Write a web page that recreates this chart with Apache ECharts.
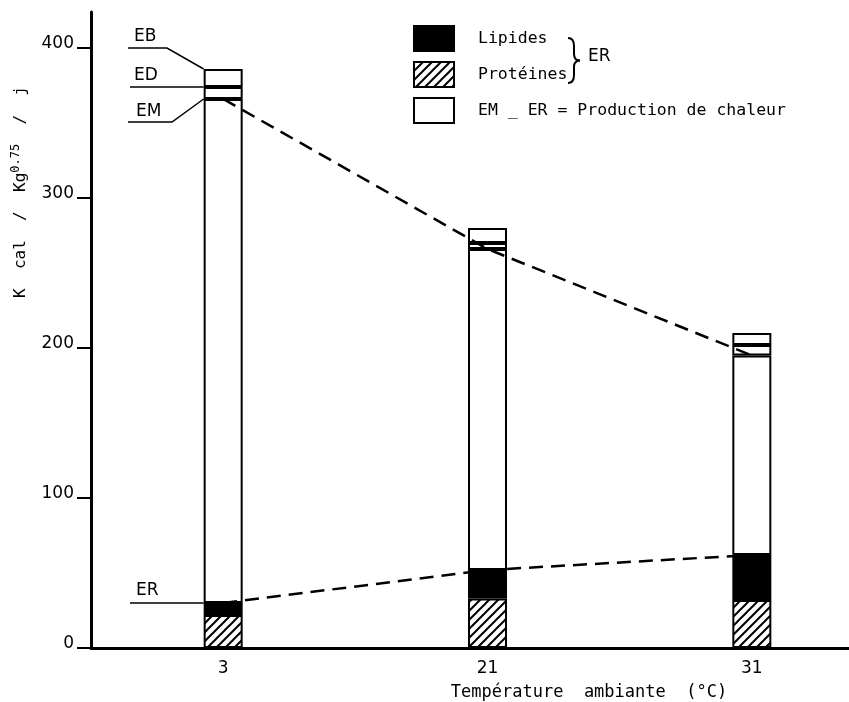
<!DOCTYPE html>
<html>
<head>
<meta charset="utf-8">
<script src="https://cdn.jsdelivr.net/npm/echarts@6/dist/echarts.min.js"></script>
<style>
  html, body { margin: 0; padding: 0; background: #fff; }
  #main { width: 849px; height: 702px; }
</style>
</head>
<body>
<div id="main"></div>
<script>
// valeurs (Kcal / Kg^0.75 / j)
var temperatures = ['3', '21', '31']
var proteines = [22, 33, 32]
var er = [30, 52, 62]     // lipides + protéines
var em = [366, 266, 195]
var ed = [374, 270, 202]
var eb = [386, 280, 210]
var yTicks = [0, 100, 200, 300, 400]

var FONT = 'DejaVu Sans'
var MONO = 'DejaVu Sans Mono'

// motif hachuré pour les protéines
var hatch = document.createElement('canvas')
hatch.width = 9
hatch.height = 9
var hc = hatch.getContext('2d')
hc.fillStyle = '#fff'
hc.fillRect(0, 0, 9, 9)
hc.strokeStyle = '#000'
hc.lineWidth = 2
hc.beginPath()
hc.moveTo(-1, 10); hc.lineTo(10, -1)
hc.moveTo(-1, 1); hc.lineTo(1, -1)
hc.moveTo(8, 10); hc.lineTo(10, 8)
hc.stroke()

function diff(a, b) {
  return a.map(function (v, i) { return v - b[i] })
}

var barBase = {
  type: 'bar',
  stack: 'e',
  barWidth: 39,
  silent: true,
  itemStyle: { color: '#fff', borderColor: '#000', borderWidth: 2 }
}

var myChart = echarts.init(document.getElementById('main'))

myChart.setOption({
  animation: false,
  grid: { left: 91, top: 12, bottom: 54, width: 793, outerBoundsMode: 'none' },
  legend: {
    left: 413,
    top: 25,
    padding: 0,
    orient: 'vertical',
    itemWidth: 40,
    itemHeight: 25,
    itemGap: 9,
    icon: 'rect',
    selectedMode: false,
    itemStyle: { borderColor: '#000', borderWidth: 2 },
    textStyle: { fontFamily: MONO, fontSize: 16.5, color: '#000', padding: [3, 0, 0, 19] },
    data: ['Lipides', 'Protéines', 'EM _ ER = Production de chaleur']
  },
  xAxis: {
    type: 'category',
    data: temperatures,
    axisLine: { lineStyle: { color: '#000', width: 3 } },
    axisTick: { show: false },
    axisLabel: { color: '#000', fontFamily: FONT, fontSize: 17, margin: 12 }
  },
  yAxis: {
    type: 'value',
    min: 0,
    max: 424,
    interval: 100,
    splitLine: { show: false },
    axisLine: { show: true, lineStyle: { color: '#000', width: 3 } },
    axisTick: { show: true, length: 14, customValues: yTicks, lineStyle: { color: '#000', width: 2 } },
    axisLabel: {
      color: '#000', fontFamily: FONT, fontSize: 17, margin: 17,
      verticalAlign: 'bottom', lineHeight: 9, customValues: yTicks
    }
  },
  series: [
    Object.assign({}, barBase, {
      name: 'Protéines',
      data: proteines,
      itemStyle: { color: { image: hatch, repeat: 'repeat' }, borderColor: '#000', borderWidth: 2 }
    }),
    Object.assign({}, barBase, {
      name: 'Lipides',
      data: diff(er, proteines),
      itemStyle: { color: '#000', borderColor: '#000', borderWidth: 2 }
    }),
    Object.assign({}, barBase, { name: 'EM _ ER = Production de chaleur', data: diff(em, er) }),
    Object.assign({}, barBase, { name: 'ED', data: diff(ed, em) }),
    Object.assign({}, barBase, { name: 'EB', data: diff(eb, ed) }),
    {
      name: 'EM', type: 'line', data: em, symbol: 'none', silent: true, z: 5,
      lineStyle: { color: '#000', width: 2.5, type: [14, 8] }
    },
    {
      name: 'ER', type: 'line', data: er, symbol: 'none', silent: true, z: 5,
      lineStyle: { color: '#000', width: 2.5, type: [14, 8] }
    }
  ]
})

// repères EB / ED / EM / ER à gauche de la première barre
var cx = myChart.convertToPixel({ xAxisIndex: 0 }, temperatures[0])
var bl = cx - 19.5
function py(v) { return myChart.convertToPixel({ yAxisIndex: 0 }, v) }
var yEB = py(eb[0]), yED = py(ed[0]), yEM = py(em[0]), yER = py(er[0])

var lineStyle = { stroke: '#000', lineWidth: 1.5, fill: null }
var braceStyle = { stroke: '#000', lineWidth: 2, fill: null }
function label(txt, x, y) {
  return {
    type: 'text', x: x, y: y,
    style: { text: txt, fontFamily: FONT, fontSize: 17, fill: '#000', verticalAlign: 'middle' }
  }
}
function curve(x1, y1, cx1, cy1, x2, y2) {
  return { type: 'bezierCurve', shape: { x1: x1, y1: y1, cpx1: cx1, cpy1: cy1, x2: x2, y2: y2 }, style: braceStyle }
}
function seg(x1, y1, x2, y2) {
  return { type: 'line', shape: { x1: x1, y1: y1, x2: x2, y2: y2 }, style: braceStyle }
}

myChart.setOption({
  graphic: [
    label('EB', 134, yEB - 32),
    { type: 'polyline', shape: { points: [[128, yEB - 21], [167, yEB - 21], [bl, yEB]] }, style: lineStyle },
    label('ED', 134, yED - 11),
    { type: 'polyline', shape: { points: [[130, yED], [bl, yED]] }, style: lineStyle },
    label('EM', 136, yEM + 13),
    { type: 'polyline', shape: { points: [[128, yEM + 23], [172, yEM + 23], [bl, yEM]] }, style: lineStyle },
    label('ER', 136, yER - 12),
    { type: 'polyline', shape: { points: [[130, yER], [bl, yER]] }, style: lineStyle },
    // accolade + ER de la légende
    curve(568, 38, 574, 38, 574, 46),
    seg(574, 46, 574, 54),
    curve(574, 54, 574, 60.5, 580, 60.5),
    curve(580, 60.5, 574, 60.5, 574, 67),
    seg(574, 67, 574, 75),
    curve(574, 75, 574, 83, 568, 83),
    label('ER', 588, 57),
    // titre de l'axe y
    {
      type: 'text', x: 21, y: 192, rotation: Math.PI / 2,
      style: {
        text: '{a|K  cal  /  Kg}{s|0.75}{a|  /  j}',
        align: 'center', verticalAlign: 'middle',
        rich: {
          a: { fontFamily: MONO, fontSize: 16, fill: '#000', lineHeight: 22 },
          s: { fontFamily: MONO, fontSize: 12, fill: '#000', lineHeight: 22, padding: [0, 0, 10, 0] }
        }
      }
    },
    {
      type: 'text', x: 589, y: 693,
      style: {
        text: 'Température  ambiante  (°C)',
        fontFamily: MONO, fontSize: 17, fill: '#000', align: 'center', verticalAlign: 'middle'
      }
    }
  ]
})
</script>
</body>
</html>
